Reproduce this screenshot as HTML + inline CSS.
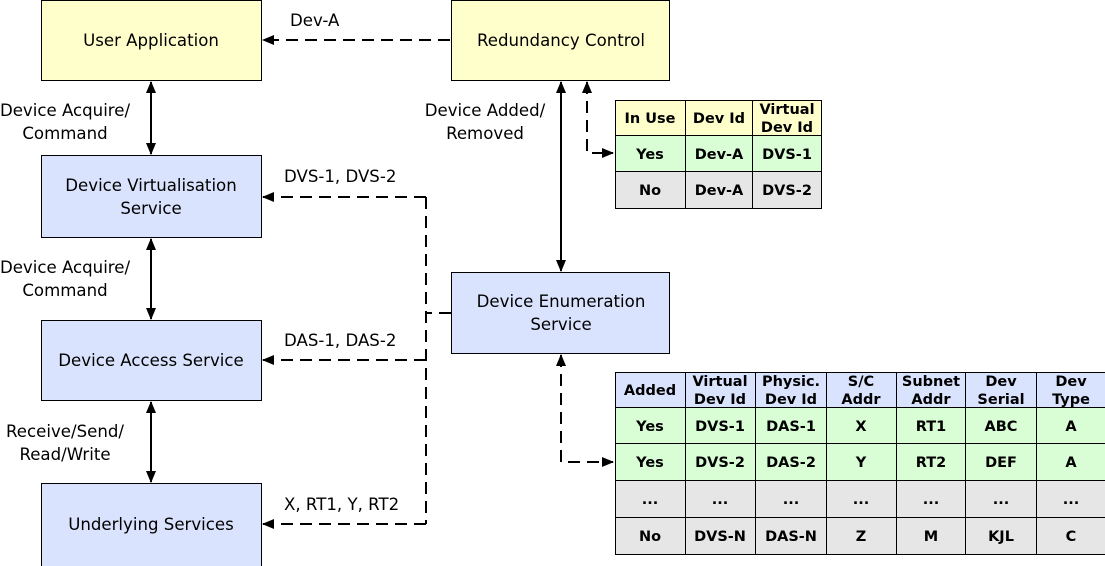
<!DOCTYPE html>
<html><head><meta charset="utf-8"><style>
html,body{margin:0;padding:0;background:#fff}
svg{display:block}
text{font-family:"DejaVu Sans","Liberation Sans",sans-serif}
.l{font-size:16.6px;fill:#000}
.t{font-size:14.5px;font-weight:bold;fill:#000}
</style></head><body>
<svg width="1105" height="566" viewBox="0 0 1105 566">
<defs>
<marker id="a" markerWidth="12" markerHeight="12" refX="11" refY="6" orient="auto" markerUnits="userSpaceOnUse"><path d="M0,1 L12,6 L0,11 z" fill="#000"/></marker>
<marker id="b" markerWidth="12" markerHeight="12" refX="1" refY="6" orient="auto" markerUnits="userSpaceOnUse"><path d="M12,1 L0,6 L12,11 z" fill="#000"/></marker>
</defs>
<g stroke="#000" stroke-width="1">
<rect x="41.5" y="0.5" width="220" height="80" fill="#ffffcc"/>
<rect x="451.5" y="0.5" width="218" height="80" fill="#ffffcc"/>
<rect x="41.5" y="155.5" width="220" height="82" fill="#dae3fd"/>
<rect x="41.5" y="320.5" width="220" height="80" fill="#dae3fd"/>
<rect x="41.5" y="483.5" width="220" height="84" fill="#dae3fd"/>
<rect x="451.5" y="272.5" width="218" height="81" fill="#dae3fd"/>
</g>
<g class="l" text-anchor="middle">
<text x="151" y="46">User Application</text>
<text x="561" y="46">Redundancy Control</text>
<text x="151" y="191">Device Virtualisation</text>
<text x="151" y="214">Service</text>
<text x="151" y="366">Device Access Service</text>
<text x="151" y="530">Underlying Services</text>
<text x="561" y="307">Device Enumeration</text>
<text x="561" y="330">Service</text>
<text x="65" y="116">Device Acquire/</text>
<text x="65" y="139">Command</text>
<text x="65" y="273">Device Acquire/</text>
<text x="65" y="296">Command</text>
<text x="65" y="437">Receive/Send/</text>
<text x="65" y="460">Read/Write</text>
<text x="485" y="116">Device Added/</text>
<text x="485" y="139">Removed</text>
</g>
<g class="l">
<text x="290" y="26">Dev-A</text>
<text x="284" y="182">DVS-1, DVS-2</text>
<text x="284" y="346">DAS-1, DAS-2</text>
<text x="284" y="510">X, RT1, Y, RT2</text>
</g>
<g stroke="#000" stroke-width="2" fill="none">
<line x1="151" y1="82" x2="151" y2="154" marker-start="url(#b)" marker-end="url(#a)"/>
<line x1="151" y1="239" x2="151" y2="319" marker-start="url(#b)" marker-end="url(#a)"/>
<line x1="151" y1="402" x2="151" y2="482" marker-start="url(#b)" marker-end="url(#a)"/>
<line x1="561" y1="82" x2="561" y2="271" marker-start="url(#b)" marker-end="url(#a)"/>
<g stroke-dasharray="12,7">
<line x1="450" y1="40" x2="263" y2="40" marker-end="url(#a)"/>
<polyline points="587,82 587,153 613,153" marker-start="url(#b)" marker-end="url(#a)"/>
<polyline points="561,355 561,462 613,462" marker-start="url(#b)" marker-end="url(#a)"/>
<line x1="451" y1="313" x2="426" y2="313"/>
<polyline points="426,197 426,524"/>
<line x1="426" y1="197" x2="263" y2="197" marker-end="url(#a)"/>
<line x1="426" y1="360" x2="263" y2="360" marker-end="url(#a)"/>
<line x1="426" y1="524" x2="263" y2="524" marker-end="url(#a)"/>
</g>
</g>
<g stroke="#000" stroke-width="1">
<rect x="615.5" y="100.5" width="206" height="35" fill="#ffffcc"/>
<rect x="615.5" y="135.5" width="206" height="36" fill="#d9fdd5"/>
<rect x="615.5" y="171.5" width="206" height="37" fill="#e6e6e6"/>
<line x1="685.5" y1="100" x2="685.5" y2="208"/>
<line x1="752.5" y1="100" x2="752.5" y2="208"/>
</g>
<g class="t" text-anchor="middle">
<text x="650" y="123">In Use</text><text x="719" y="123">Dev Id</text>
<text x="787" y="114">Virtual</text><text x="787" y="132">Dev Id</text>
<text x="650" y="159">Yes</text><text x="719" y="159">Dev-A</text><text x="787" y="159">DVS-1</text>
<text x="650" y="195">No</text><text x="719" y="195">Dev-A</text><text x="787" y="195">DVS-2</text>
</g>
<g stroke="#000" stroke-width="1">
<rect x="615.5" y="372.5" width="492" height="35" fill="#dae3fd"/>
<rect x="615.5" y="407.5" width="492" height="73" fill="#d9fdd5"/>
<rect x="615.5" y="480.5" width="492" height="74" fill="#e6e6e6"/>
<line x1="615" y1="443.5" x2="1105" y2="443.5"/>
<line x1="615" y1="517.5" x2="1105" y2="517.5"/>
<line x1="685.5" y1="372" x2="685.5" y2="554"/>
<line x1="755.5" y1="372" x2="755.5" y2="554"/>
<line x1="826.5" y1="372" x2="826.5" y2="554"/>
<line x1="896.5" y1="372" x2="896.5" y2="554"/>
<line x1="965.5" y1="372" x2="965.5" y2="554"/>
<line x1="1036.5" y1="372" x2="1036.5" y2="554"/>
</g>
<g class="t" text-anchor="middle">
<text x="650" y="395">Added</text>
<text x="720" y="386">Virtual</text><text x="720" y="404">Dev Id</text>
<text x="791" y="386">Physic.</text><text x="791" y="404">Dev Id</text>
<text x="861" y="386">S/C</text><text x="861" y="404">Addr</text>
<text x="931" y="386">Subnet</text><text x="931" y="404">Addr</text>
<text x="1001" y="386">Dev</text><text x="1001" y="404">Serial</text>
<text x="1071" y="386">Dev</text><text x="1071" y="404">Type</text>
<text x="650" y="431">Yes</text><text x="720" y="431">DVS-1</text><text x="791" y="431">DAS-1</text><text x="861" y="431">X</text><text x="931" y="431">RT1</text><text x="1001" y="431">ABC</text><text x="1071" y="431">A</text>
<text x="650" y="467">Yes</text><text x="720" y="467">DVS-2</text><text x="791" y="467">DAS-2</text><text x="861" y="467">Y</text><text x="931" y="467">RT2</text><text x="1001" y="467">DEF</text><text x="1071" y="467">A</text>
<text x="650" y="504">...</text><text x="720" y="504">...</text><text x="791" y="504">...</text><text x="861" y="504">...</text><text x="931" y="504">...</text><text x="1001" y="504">...</text><text x="1071" y="504">...</text>
<text x="650" y="541">No</text><text x="720" y="541">DVS-N</text><text x="791" y="541">DAS-N</text><text x="861" y="541">Z</text><text x="931" y="541">M</text><text x="1001" y="541">KJL</text><text x="1071" y="541">C</text>
</g>
</svg>
</body></html>
